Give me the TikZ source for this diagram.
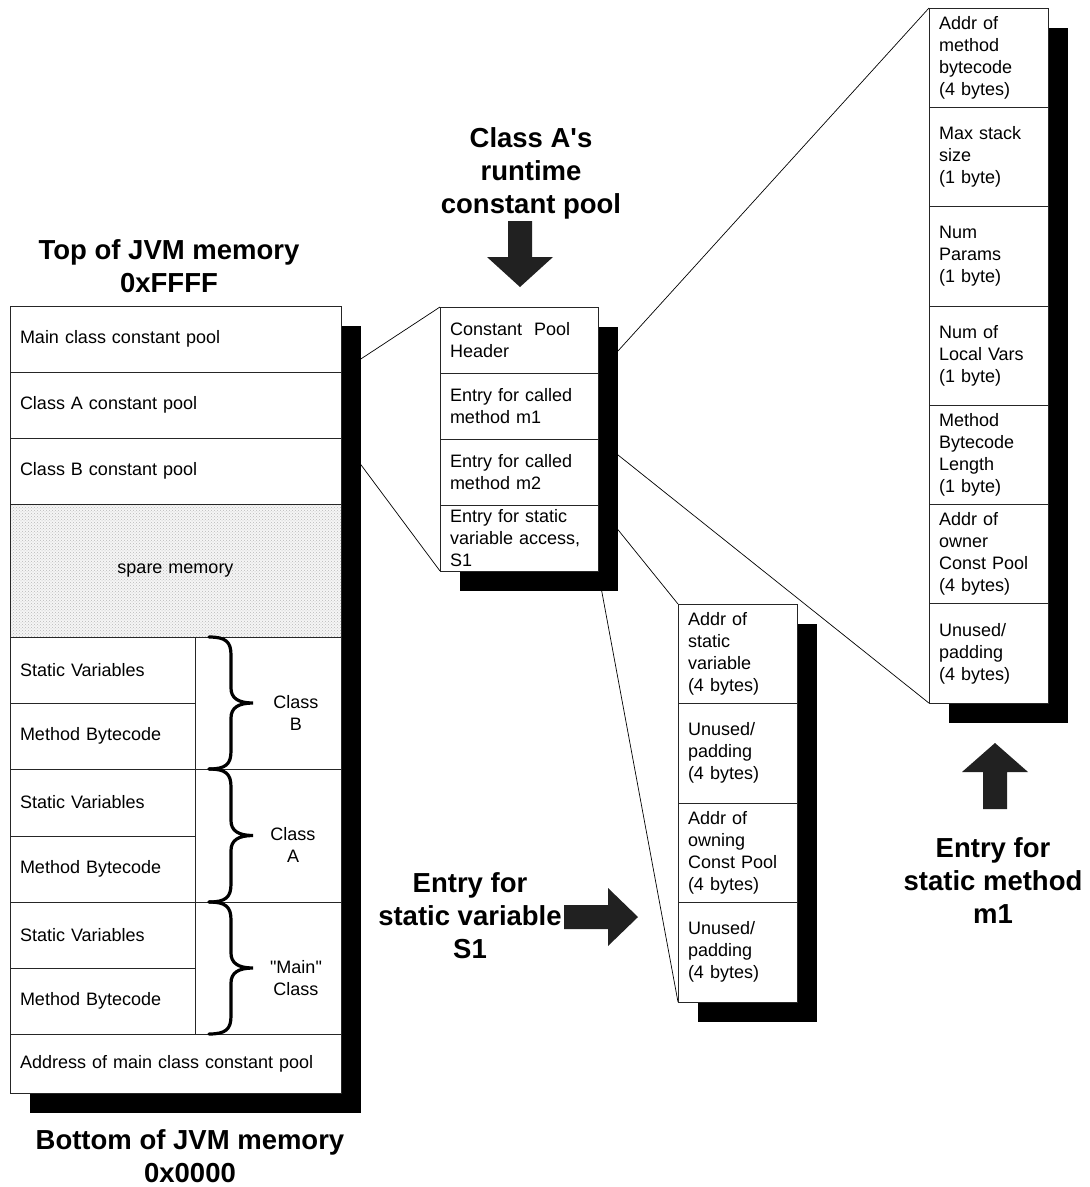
\documentclass[tikz,border=0pt]{standalone}
\usepackage{fontspec}
\setmainfont{Liberation Sans}
\usetikzlibrary{backgrounds,patterns}
\begin{document}
\begin{tikzpicture}[x=1pt,y=-1pt,
  cellbase/.style={draw=black!85, line width=0.8pt, fill=white, inner xsep=10pt, inner ysep=0pt,
    outer sep=0pt, anchor=north west, align=left, font=\fontsize{18}{22}\selectfont},
  leftrow/.style={cellbase, text width=311pt, minimum width=331pt, minimum height=#1},
  halfrow/.style={cellbase, text width=165pt, minimum width=185pt, minimum height=#1},
  sidecell/.style={cellbase, text width=126pt, minimum width=146pt, minimum height=#1},
  midrow/.style={cellbase, text width=138pt, minimum width=158pt, minimum height=#1},
  narrowrow/.style={cellbase, text width=99pt, minimum width=119pt, minimum height=#1},
  lbl/.style={align=center, inner sep=0pt, font=\fontsize{18}{22}\selectfont},
  title/.style={align=center, inner sep=0pt, font=\fontsize{27.5}{33}\selectfont\bfseries},
  conn/.style={draw=black, line width=0.7pt},
  shadowfill/.style={fill=black},
  bigarrow/.style={fill=black!87},
  classbrace/.pic={
    \draw[line width=3.2pt, line cap=round]
      (0,0) .. controls (17,0) and (22,5) .. (22,18)
      -- (22,{#1/2-15}) .. controls (22,{#1/2-5}) and (29,{#1/2}) .. (44,{#1/2})
      .. controls (29,{#1/2}) and (22,{#1/2+5}) .. (22,{#1/2+15})
      -- (22,{#1-18}) .. controls (22,{#1-5}) and (17,#1) .. (0,#1);
  }
]
\useasboundingbox (0,0) rectangle (1090,1187);

% ---------- JVM memory column ----------
\node[leftrow=66pt] (lMain) at (10,306) {Main class constant pool};
\node[leftrow=66pt] (lA) at (lMain.south west) {Class A constant pool};
\node[leftrow=66pt] (lB) at (lA.south west) {Class B constant pool};
\node[leftrow=133pt, align=center, preaction={fill=gray!8}, pattern=crosshatch dots, pattern color=gray!55]
  (spare) at (lB.south west) {spare memory};

\node[halfrow=66pt] (bSV) at (spare.south west) {Static Variables};
\node[halfrow=66pt] (bMB) at (bSV.south west) {Method Bytecode};
\node[sidecell=132pt] (bCls) at (bSV.north east) {};

\node[halfrow=67pt] (aSV) at (bMB.south west) {Static Variables};
\node[halfrow=66pt] (aMB) at (aSV.south west) {Method Bytecode};
\node[sidecell=133pt] (aCls) at (aSV.north east) {};

\node[halfrow=66pt] (mSV) at (aMB.south west) {Static Variables};
\node[halfrow=66pt] (mMB) at (mSV.south west) {Method Bytecode};
\node[sidecell=132pt] (mCls) at (mSV.north east) {};

\node[leftrow=59pt] (addr) at (mMB.south west) {Address of main class constant pool};

% class groupings
\pic at ([xshift=14pt]bCls.north west) {classbrace=132};
\pic at ([xshift=14pt]aCls.north west) {classbrace=133};
\pic at ([xshift=14pt]mCls.north west) {classbrace=132};
\node[lbl] (bLbl) at (296,713) {Class\\B};
\node[lbl] (aLbl) at (293,845) {Class\\A};
\node[lbl] (mLbl) at (296,978) {\textquotedbl Main\textquotedbl\\Class};

% ---------- Class A's runtime constant pool ----------
\node[midrow=66pt] (cHead) at (440,307) {Constant\ \ Pool\\Header};
\node[midrow=66pt] (cM1) at (cHead.south west) {Entry for called\\method m1};
\node[midrow=66pt] (cM2) at (cM1.south west) {Entry for called\\method m2};
\node[midrow=66pt] (cS1) at (cM2.south west) {Entry for static\\variable access,\\S1};

% ---------- static variable entry ----------
\node[narrowrow=99pt] (sAddr) at (678,604) {Addr of\\static\\variable\\(4 bytes)};
\node[narrowrow=100pt] (sPad1) at (sAddr.south west) {Unused/\\padding\\(4 bytes)};
\node[narrowrow=99pt] (sOwn) at (sPad1.south west) {Addr of\\owning\\Const Pool\\(4 bytes)};
\node[narrowrow=100pt] (sPad2) at (sOwn.south west) {Unused/\\padding\\(4 bytes)};

% ---------- static method entry ----------
\node[narrowrow=99.3pt] (mAddr) at (929,8) {Addr of\\method\\bytecode\\(4 bytes)};
\node[narrowrow=99.3pt] (mStack) at (mAddr.south west) {Max stack\\size\\(1 byte)};
\node[narrowrow=99.3pt] (mParams) at (mStack.south west) {Num\\Params\\(1 byte)};
\node[narrowrow=99.3pt] (mLocals) at (mParams.south west) {Num of\\Local Vars\\(1 byte)};
\node[narrowrow=99.3pt] (mLen) at (mLocals.south west) {Method\\Bytecode\\Length\\(1 byte)};
\node[narrowrow=99.3pt] (mOwner) at (mLen.south west) {Addr of\\owner\\Const Pool\\(4 bytes)};
\node[narrowrow=99.3pt] (mPad) at (mOwner.south west) {Unused/\\padding\\(4 bytes)};

% ---------- page, connectors and drop shadows ----------
\begin{scope}[on background layer]
  \fill[white] (0,0) rectangle (1090,1187);

  \draw[conn] (lA.north east) -- (cHead.north west);
  \draw[conn] (lA.south east) -- (cS1.south west);
  \draw[conn] (cM1.north east) -- (mAddr.north west);
  \draw[conn] (cM1.south east) -- (mPad.south west);
  \draw[conn] (cS1.north east) -- (sAddr.north west);
  \draw[conn] (cS1.south east) -- (sPad2.south west);

  \fill[shadowfill] ([shift={(20,20)}]lMain.north west) rectangle ([shift={(20,20)}]addr.south east);
  \fill[shadowfill] ([shift={(20,20)}]cHead.north west) rectangle ([shift={(20,20)}]cS1.south east);
  \fill[shadowfill] ([shift={(20,20)}]sAddr.north west) rectangle ([shift={(20,20)}]sPad2.south east);
  \fill[shadowfill] ([shift={(20,20)}]mAddr.north west) rectangle ([shift={(20,20)}]mPad.south east);
\end{scope}

% ---------- titles ----------
\node[title] (topTitle) at (169,266) {Top of JVM memory\\0xFFFF};
\node[title] (botTitle) at (190,1156) {Bottom of JVM memory\\0x0000};
\node[title] (poolTitle) at (531,173) {Class A\textquotesingle s\\runtime\\constant pool};
\node[title] (svTitle) at (470,916) {Entry for\\static variable\\S1};
\node[title] (smTitle) at (993,881) {Entry for\\static method\\m1};

% ---------- block arrows ----------
\fill[bigarrow] (508,221) -- (532,221) -- (532,257) -- (553,257) -- (520,287) -- (487,257) -- (508,257) -- cycle;
\fill[bigarrow] (983,809) -- (1007,809) -- (1007,772) -- (1028,772) -- (995,743) -- (962,772) -- (983,772) -- cycle;
\fill[bigarrow] (564,905) -- (608,905) -- (608,888) -- (638,917) -- (608,946) -- (608,929) -- (564,929) -- cycle;
\end{tikzpicture}
\end{document}
